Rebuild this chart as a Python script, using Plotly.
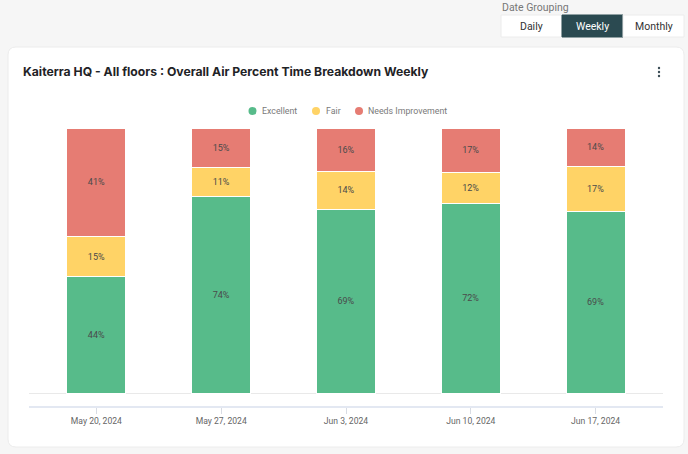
import plotly.graph_objects as go

# ---- data ----
weeks = ["May 20, 2024", "May 27, 2024", "Jun 3, 2024", "Jun 10, 2024", "Jun 17, 2024"]
excellent = [43.8, 74.2, 69.3, 71.6, 68.6]
fair = [15.1, 10.9, 14.3, 11.7, 17.0]
needs_improvement = [41.1, 14.9, 16.4, 16.7, 14.4]
series_names = ["Excellent", "Fair", "Needs Improvement"]
series_colors = ["#57bb8a", "#ffd366", "#e67c73"]
title_text = "Kaiterra HQ - All floors : Overall Air Percent Time Breakdown Weekly"
grouping_options = ["Daily", "Weekly", "Monthly"]

W, H = 688, 454
L, R, T, B = 29, 663, 128, 406
FONT = "Inter"
FONT2 = "Roboto"


def px(x):
    return (x - L) / (R - L)


def py(y):
    return (B - y) / (B - T)


fig = go.Figure()
for name, vals, col in zip(series_names, [excellent, fair, needs_improvement], series_colors):
    fig.add_trace(go.Bar(
        x=weeks, y=vals, name=name,
        marker=dict(color=col, line=dict(color="white", width=1)),
        texttemplate="%{y:.0f}%", textposition="inside", insidetextanchor="middle",
        textangle=0, constraintext="none",
        textfont=dict(family=FONT2, size=9, color="#4a4a4a"),
        showlegend=False, hoverinfo="x+y+name",
    ))

shapes = []
annotations = []


def rrect(x0, y0, x1, y1, r):
    rx = r / (R - L)
    ry = r / (B - T)
    a0, a1 = px(x0), px(x1)
    b0, b1 = py(y0), py(y1)
    return (f"M {a0+rx},{b0} L {a1-rx},{b0} Q {a1},{b0} {a1},{b0-ry} "
            f"L {a1},{b1+ry} Q {a1},{b1} {a1-rx},{b1} L {a0+rx},{b1} "
            f"Q {a0},{b1} {a0},{b1+ry} L {a0},{b0-ry} Q {a0},{b0} {a0+rx},{b0} Z")


# card
shapes.append(dict(type="path", xref="paper", yref="paper", path=rrect(8, 47, 684, 447, 8),
                   fillcolor="white", line=dict(color="#ececec", width=1), layer="below"))

# button group
btn_x = [501, 562, 623, 684]
for i, lab in enumerate(grouping_options):
    sel = lab == "Weekly"
    shapes.append(dict(type="rect", xref="paper", yref="paper",
                       x0=px(btn_x[i]), x1=px(btn_x[i + 1]), y0=py(37), y1=py(15),
                       fillcolor="#2b4a51" if sel else "white",
                       line=dict(color="#2b4a51" if sel else "#ececec", width=1), layer="below"))
    annotations.append(dict(xref="paper", yref="paper", x=px((btn_x[i] + btn_x[i + 1]) / 2), y=py(26),
                            text=lab, showarrow=False, xanchor="center", yanchor="middle",
                            font=dict(family=FONT2, size=10.5, color="white" if sel else "#333333")))
annotations.append(dict(xref="paper", yref="paper", x=px(500), y=py(7), text="Date Grouping",
                        showarrow=False, xanchor="left", yanchor="middle",
                        font=dict(family=FONT2, size=10.5, color="#777777")))

# title
annotations.append(dict(xref="paper", yref="paper", x=px(21), y=py(72), text="<b>" + title_text + "</b>",
                        showarrow=False, xanchor="left", yanchor="middle",
                        font=dict(family=FONT, size=12.2, color="#1f2326")))
# menu dots
for dy in (-4, 0, 4):
    shapes.append(dict(type="circle", xref="paper", yref="paper", xsizemode="pixel", ysizemode="pixel",
                       xanchor=px(659), yanchor=py(72 + dy), x0=-1.2, x1=1.2, y0=-1.2, y1=1.2,
                       fillcolor="#3b4d56", line=dict(width=0)))

# legend (manual)
leg_circ = [252.5, 316, 359]
leg_text = [261.5, 325.5, 368]
for name, col, cx, tx in zip(series_names, series_colors, leg_circ, leg_text):
    shapes.append(dict(type="circle", xref="paper", yref="paper", xsizemode="pixel", ysizemode="pixel",
                       xanchor=px(cx), yanchor=py(111), x0=-4, x1=4, y0=-4, y1=4,
                       fillcolor=col, line=dict(width=0)))
    annotations.append(dict(xref="paper", yref="paper", x=px(tx), y=py(111), text=name, showarrow=False,
                            xanchor="left", yanchor="middle", xshift=-2,
                            font=dict(family=FONT2, size=8.8, color="#7a7a7a")))

fig.update_layout(
    width=W, height=H,
    margin=dict(l=L, r=W - R, t=T, b=H - B, pad=0),
    paper_bgcolor="#f6f6f6", plot_bgcolor="rgba(0,0,0,0)",
    barmode="stack", bargap=0.527,
    shapes=shapes, annotations=annotations,
    showlegend=False,
    font=dict(family=FONT2),
    xaxis=dict(type="category", range=[-0.54, 4.54], showgrid=False, showline=True,
               linecolor="#e3e8f2", linewidth=2, ticks="outside", ticklen=6, tickcolor="#d8dce4",
               tickwidth=1, tickfont=dict(family=FONT2, size=8.6, color="#666666"), fixedrange=True),
    yaxis=dict(range=[-4.906, 100], tickvals=[0, 100], showticklabels=False, showgrid=True,
               gridcolor="#e9e9e9", gridwidth=1, zeroline=False, showline=False, fixedrange=True),
)

fig.write_html("out.html", config={"displayModeBar": False},
               post_script="document.body.style.margin='0';document.body.style.background='#f6f6f6';")
